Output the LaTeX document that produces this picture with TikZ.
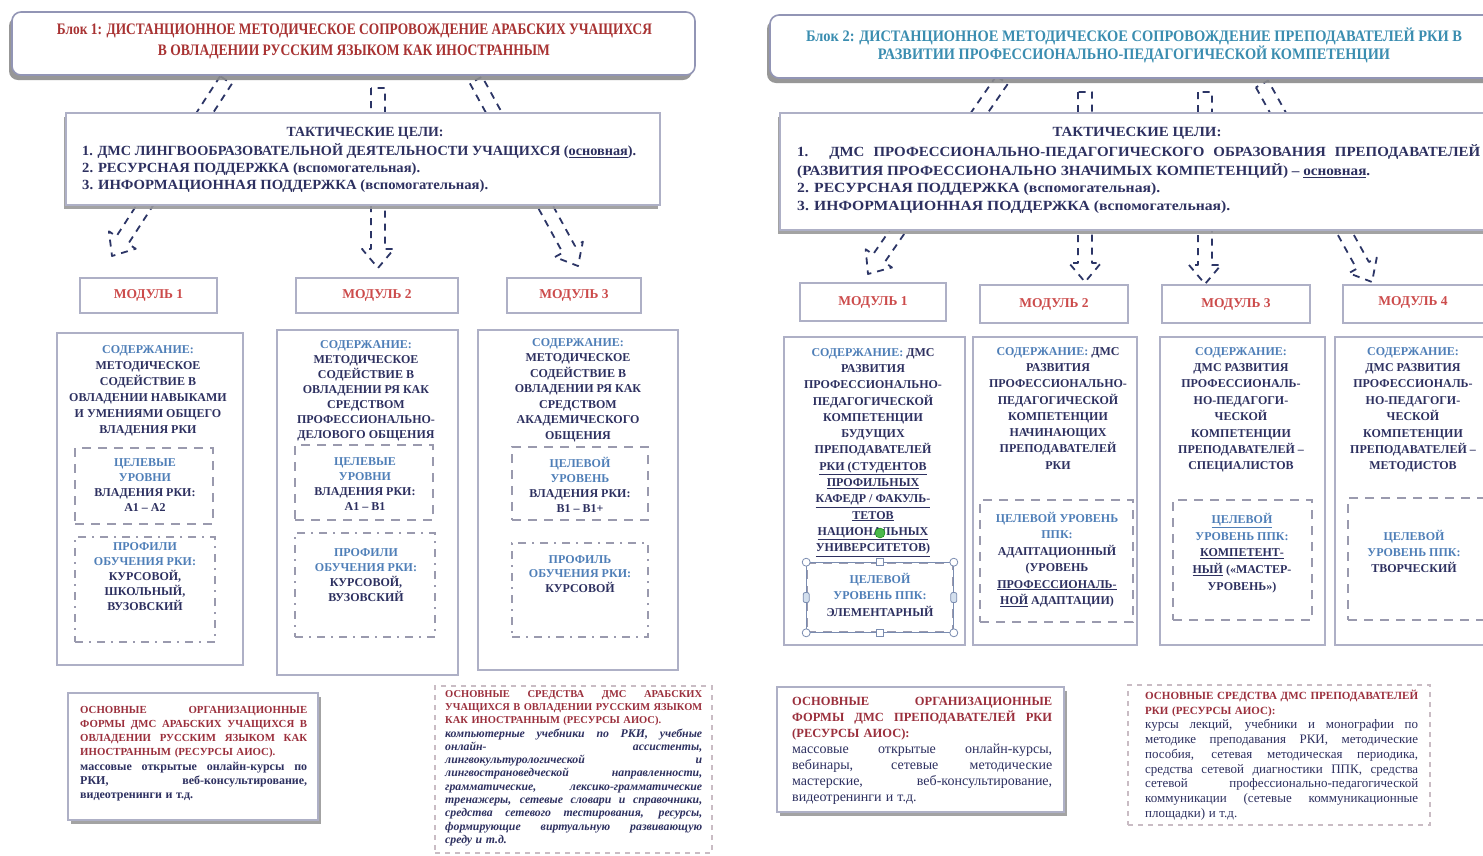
\documentclass[tikz,border=0pt]{standalone}
\usepackage{fontspec}
\setmainfont{Liberation Serif}
\usepackage{graphicx}
\usetikzlibrary{shadows,calc,fit}
\definecolor{navy}{HTML}{2D3060}
\definecolor{blu}{HTML}{4F7FB8}
\definecolor{maroon}{HTML}{9B2F3C}
\definecolor{modred}{HTML}{CC4B4B}
\definecolor{tealh}{HTML}{3A8DB0}
\definecolor{hdrred}{HTML}{A83232}
\definecolor{boxgray}{HTML}{AEB0C6}
\definecolor{hdrline}{HTML}{9295B5}
\definecolor{dashgray}{HTML}{9A9AAE}
\definecolor{arrowc}{HTML}{2C3566}
\definecolor{resline}{HTML}{C9BCC4}
\definecolor{selc}{HTML}{7A8CB0}

\newcommand\FitW[2]{\resizebox{#1}{\height}{#2}}
\newcommand\JustL[1]{\makebox[\linewidth][s]{\spaceskip=0.3em plus 1fil\xspaceskip=0.35em plus 1fil\relax #1}}
\newcommand\ResL[1]{\resizebox{\linewidth}{\height}{#1}}
\newcommand\MarT[1]{\textcolor{maroon}{\bfseries #1}}
\newcommand\NavT[1]{\textcolor{navy}{#1}}
\newcommand\BluT[1]{\textcolor{blu}{#1}}
\newcommand\BArrow[2]{%
  \path let \p1=(#1), \p2=(#2) in \pgfextra{%
    \pgfmathsetmacro\bangtmp{atan2(\y2-\y1,\x2-\x1)}%
    \pgfmathsetmacro\blentmp{veclen(\x2-\x1,\y2-\y1)}%
    \pgfmathsetmacro\bnecktmp{\blentmp-19}%
    \xdef\bang{\bangtmp}\xdef\blen{\blentmp}\xdef\bneck{\bnecktmp}};
  \draw[barrowst, shift={(#1)}, rotate=\bang]
    (0pt,-7pt) -- (\bneck pt,-7pt) -- (\bneck pt,-16pt) -- (\blen pt,0pt)
    -- (\bneck pt,16pt) -- (\bneck pt,7pt) -- (0pt,7pt) -- cycle;}

\begin{document}
\begin{tikzpicture}[x=1pt,y=-1pt,
  hdrbox/.style={draw=hdrline, line width=1.6pt, rounded corners=9pt, fill=white, inner sep=0pt,
     drop shadow={shadow xshift=-3pt, shadow yshift=-5pt, fill=black!45, opacity=0.9}},
  tacbox/.style={draw=boxgray, line width=1.5pt, fill=white, inner sep=0pt,
     drop shadow={shadow xshift=-2pt, shadow yshift=-4pt, fill=black!40, opacity=0.9}},
  modbox/.style={draw=boxgray, line width=2pt, fill=white, inner sep=0pt},
  contbox/.style={draw=boxgray, line width=2.5pt, fill=white, inner sep=0pt},
  goalbox/.style={draw=dashgray, line width=1.6pt, dash pattern=on 9pt off 7pt, inner sep=0pt},
  profbox/.style={draw=dashgray, line width=1.6pt, dash pattern=on 8pt off 6pt on 2pt off 6pt, inner sep=0pt},
  barrowst/.style={draw=arrowc, line width=1.8pt, dash pattern=on 7pt off 6pt, line join=round},
  orgbox/.style={draw=boxgray, line width=1.2pt, fill=white, inner sep=0pt,
     drop shadow={shadow xshift=3pt, shadow yshift=-4pt, fill=black!40, opacity=0.9}},
  resbox/.style={draw=resline, line width=2pt, dash pattern=on 5pt off 5pt, inner sep=0pt},
  hdrtxt/.style={font=\fontsize{16}{18}\selectfont\bfseries, inner sep=0pt},
  tactxt/.style={font=\fontsize{14}{16}\selectfont\bfseries, text=navy, inner sep=0pt},
  modtxt/.style={font=\fontsize{13.5}{16}\selectfont\bfseries, text=modred, inner sep=0pt},
  ctext/.style={font=\fontsize{12}{#1}\selectfont\bfseries, text=navy, align=center, anchor=north, inner sep=0pt},
  para/.style={anchor=north west, inner sep=0pt, align=left, text width=#1},
  handle/.style={circle, draw=selc, fill=white, line width=0.8pt, minimum size=8pt, inner sep=0pt},
  shandle/.style={rectangle, draw=selc, fill=white, line width=0.8pt, minimum size=7pt, inner sep=0pt},
]
\useasboundingbox (0,0) rectangle (1483,855);
\clip (0,0) rectangle (1483,855);
\fill[white] (0,0) rectangle (1483,855);

% ---------- block arrows (behind boxes) ----------
\coordinate (a1s) at (226,80);  \coordinate (a1e) at (112,256);
\coordinate (a2s) at (378,88);  \coordinate (a2e) at (378,268);
\coordinate (a3s) at (476,80);  \coordinate (a3e) at (578,266);
\coordinate (b1s) at (1002,80); \coordinate (b1e) at (868,274);
\coordinate (b2s) at (1085,92); \coordinate (b2e) at (1085,282);
\coordinate (b3s) at (1205,92); \coordinate (b3e) at (1205,284);
\coordinate (b4s) at (1262,84); \coordinate (b4e) at (1372,282);
\BArrow{a1s}{a1e}
\BArrow{a2s}{a2e}
\BArrow{a3s}{a3e}
\BArrow{b1s}{b1e}
\BArrow{b2s}{b2e}
\BArrow{b3s}{b3e}
\BArrow{b4s}{b4e}

% ---------- headers ----------
\node[hdrbox, fit={(12,12)(695,75)}] (hdr1) {};
\node[hdrtxt, text=hdrred] (hdr1a) at (354.5,31) {\FitW{595pt}{Блок 1: ДИСТАНЦИОННОЕ МЕТОДИЧЕСКОЕ СОПРОВОЖДЕНИЕ АРАБСКИХ УЧАЩИХСЯ}};
\node[hdrtxt, text=hdrred] (hdr1b) at (354,52) {\FitW{392pt}{В ОВЛАДЕНИИ РУССКИМ ЯЗЫКОМ КАК ИНОСТРАННЫМ}};

\node[hdrbox, fit={(770,15)(1510,78)}] (hdr2) {};
\node[hdrtxt, text=tealh] (hdr2a) at (1134,36) {\FitW{656pt}{Блок 2: ДИСТАНЦИОННОЕ МЕТОДИЧЕСКОЕ СОПРОВОЖДЕНИЕ ПРЕПОДАВАТЕЛЕЙ РКИ В}};
\node[hdrtxt, text=tealh] (hdr2b) at (1134,54) {\FitW{512pt}{РАЗВИТИИ ПРОФЕССИОНАЛЬНО-ПЕДАГОГИЧЕСКОЙ КОМПЕТЕНЦИИ}};

% ---------- tactical goals ----------
\node[tacbox, fit={(66,113)(660,205)}] (tac1) {};
\node[tactxt] (tac1t) at (365,133) {\FitW{157pt}{ТАКТИЧЕСКИЕ ЦЕЛИ:}};
\node[tactxt, anchor=west] (tac1a) at (82,151) {\FitW{554pt}{1. ДМС ЛИНГВООБРАЗОВАТЕЛЬНОЙ ДЕЯТЕЛЬНОСТИ УЧАЩИХСЯ (\underline{основная}).}};
\node[tactxt, anchor=west] (tac1b) at (82,169) {\FitW{338pt}{2. РЕСУРСНАЯ ПОДДЕРЖКА (вспомогательная).}};
\node[tactxt, anchor=west] (tac1c) at (82,186) {\FitW{406pt}{3. ИНФОРМАЦИОННАЯ ПОДДЕРЖКА (вспомогательная).}};

\node[tacbox, fit={(780,113)(1510,230)}] (tac2) {};
\node[tactxt] (tac2t) at (1137,133) {\FitW{169pt}{ТАКТИЧЕСКИЕ ЦЕЛИ:}};
\node[tactxt, anchor=west] (tac2a) at (797,152) {\FitW{683pt}{\makebox[640pt][s]{1. ДМС ПРОФЕССИОНАЛЬНО-ПЕДАГОГИЧЕСКОГО ОБРАЗОВАНИЯ ПРЕПОДАВАТЕЛЕЙ}}};
\node[tactxt, anchor=west] (tac2b) at (797,171) {\FitW{573pt}{(РАЗВИТИЯ ПРОФЕССИОНАЛЬНО ЗНАЧИМЫХ КОМПЕТЕНЦИЙ) – \underline{основная}.}};
\node[tactxt, anchor=west] (tac2c) at (797,189) {\FitW{363pt}{2. РЕСУРСНАЯ ПОДДЕРЖКА (вспомогательная).}};
\node[tactxt, anchor=west] (tac2d) at (797,207) {\FitW{433pt}{3. ИНФОРМАЦИОННАЯ ПОДДЕРЖКА (вспомогательная).}};

% ---------- module labels ----------
\node[modbox, fit={(80,278)(217,313)}] (lm1) {};
\node[modtxt] at (lm1.center) {МОДУЛЬ 1};
\node[modbox, fit={(296,278)(458,313)}] (lm2) {};
\node[modtxt] at (lm2.center) {МОДУЛЬ 2};
\node[modbox, fit={(507,278)(641,313)}] (lm3) {};
\node[modtxt] at (lm3.center) {МОДУЛЬ 3};

\node[modbox, fit={(800,283)(946,321)}] (rm1) {};
\node[modtxt] at (rm1.center) {МОДУЛЬ 1};
\node[modbox, fit={(980,285)(1128,323)}] (rm2) {};
\node[modtxt] at (rm2.center) {МОДУЛЬ 2};
\node[modbox, fit={(1162,285)(1310,323)}] (rm3) {};
\node[modtxt] at (rm3.center) {МОДУЛЬ 3};
\node[modbox, fit={(1343,285)(1500,323)}] (rm4) {};
\node[modtxt] at (1413,302) {МОДУЛЬ 4};

% ---------- left content boxes ----------
\node[contbox, fit={(57,333)(243,665)}] (lc1) {};
\node[goalbox, fit={(75,448)(213,524)}] (lg1) {};
\node[profbox, fit={(75,537)(215,642)}] (lp1) {};
\node[ctext=16] (lc1t) at (148,345) {\BluT{СОДЕРЖАНИЕ:}\\МЕТОДИЧЕСКОЕ\\СОДЕЙСТВИЕ В\\ОВЛАДЕНИИ НАВЫКАМИ\\И УМЕНИЯМИ ОБЩЕГО\\ВЛАДЕНИЯ РКИ};
\node[ctext=15] (lg1t) at (145,458) {\BluT{ЦЕЛЕВЫЕ}\\\BluT{УРОВНИ}\\ВЛАДЕНИЯ РКИ:\\А1 – А2};
\node[ctext=15.2] (lp1t) at (145,542) {\BluT{ПРОФИЛИ}\\\BluT{ОБУЧЕНИЯ РКИ:}\\КУРСОВОЙ,\\ШКОЛЬНЫЙ,\\ВУЗОВСКИЙ};

\node[contbox, fit={(277,330)(458,675)}] (lc2) {};
\node[goalbox, fit={(295,445)(433,520)}] (lg2) {};
\node[profbox, fit={(295,533)(435,637)}] (lp2) {};
\node[ctext=15] (lc2t) at (366,340) {\BluT{СОДЕРЖАНИЕ:}\\МЕТОДИЧЕСКОЕ\\СОДЕЙСТВИЕ В\\ОВЛАДЕНИИ РЯ КАК\\СРЕДСТВОМ\\ПРОФЕССИОНАЛЬНО-\\ДЕЛОВОГО ОБЩЕНИЯ};
\node[ctext=15] (lg2t) at (365,457) {\BluT{ЦЕЛЕВЫЕ}\\\BluT{УРОВНИ}\\ВЛАДЕНИЯ РКИ:\\А1 – В1};
\node[ctext=15] (lp2t) at (366,548) {\BluT{ПРОФИЛИ}\\\BluT{ОБУЧЕНИЯ РКИ:}\\КУРСОВОЙ,\\ВУЗОВСКИЙ};

\node[contbox, fit={(478,330)(678,670)}] (lc3) {};
\node[goalbox, fit={(512,447)(648,520)}] (lg3) {};
\node[profbox, fit={(512,543)(648,637)}] (lp3) {};
\node[ctext=15.5] (lc3t) at (578,338) {\BluT{СОДЕРЖАНИЕ:}\\МЕТОДИЧЕСКОЕ\\СОДЕЙСТВИЕ В\\ОВЛАДЕНИИ РЯ КАК\\СРЕДСТВОМ\\АКАДЕМИЧЕСКОГО\\ОБЩЕНИЯ};
\node[ctext=15] (lg3t) at (580,457) {\BluT{ЦЕЛЕВОЙ}\\\BluT{УРОВЕНЬ}\\ВЛАДЕНИЯ РКИ:\\В1 – В1+};
\node[ctext=14.5] (lp3t) at (580,555) {\BluT{ПРОФИЛЬ}\\\BluT{ОБУЧЕНИЯ РКИ:}\\КУРСОВОЙ};

% ---------- right content boxes ----------
\node[contbox, fit={(784,337)(965,645)}] (rc1) {};
\node[goalbox, fit={(807,563)(953,632)}] (rg1) {};
\node[ctext=16.3] (rc1t) at (873,348) {\BluT{СОДЕРЖАНИЕ:} ДМС\\РАЗВИТИЯ\\ПРОФЕССИОНАЛЬНО-\\ПЕДАГОГИЧЕСКОЙ\\КОМПЕТЕНЦИИ\\БУДУЩИХ\\ПРЕПОДАВАТЕЛЕЙ\\\underline{РКИ (СТУДЕНТОВ}\\\underline{ПРОФИЛЬНЫХ}\\\underline{КАФЕДР / ФАКУЛЬ-}\\\underline{ТЕТОВ}\\\underline{НАЦИОНАЛЬНЫХ}\\\underline{УНИВЕРСИТЕТОВ)}};
\node[ctext=16.5] (rg1t) at (880,573) {\BluT{ЦЕЛЕВОЙ}\\\BluT{УРОВЕНЬ ППК:}\\ЭЛЕМЕНТАРНЫЙ};

\node[contbox, fit={(973,337)(1137,645)}] (rc2) {};
\node[goalbox, fit={(980,500)(1133,622)}] (rg2) {};
\node[ctext=16.3] (rc2t) at (1058,347) {\BluT{СОДЕРЖАНИЕ:} ДМС\\РАЗВИТИЯ\\ПРОФЕССИОНАЛЬНО-\\ПЕДАГОГИЧЕСКОЙ\\КОМПЕТЕНЦИИ\\НАЧИНАЮЩИХ\\ПРЕПОДАВАТЕЛЕЙ\\РКИ};
\node[ctext=16.4] (rg2t) at (1057,512) {\BluT{ЦЕЛЕВОЙ УРОВЕНЬ}\\\BluT{ППК:}\\АДАПТАЦИОННЫЙ\\(УРОВЕНЬ\\\underline{ПРОФЕССИОНАЛЬ-}\\\underline{НОЙ} АДАПТАЦИИ)};

\node[contbox, fit={(1160,337)(1325,645)}] (rc3) {};
\node[goalbox, fit={(1173,500)(1312,620)}] (rg3) {};
\node[ctext=16.4] (rc3t) at (1241,347) {\BluT{СОДЕРЖАНИЕ:}\\ДМС РАЗВИТИЯ\\ПРОФЕССИОНАЛЬ-\\НО-ПЕДАГОГИ-\\ЧЕСКОЙ\\КОМПЕТЕНЦИИ\\ПРЕПОДАВАТЕЛЕЙ –\\СПЕЦИАЛИСТОВ};
\node[ctext=16.7] (rg3t) at (1242,513) {\BluT{\underline{ЦЕЛЕВОЙ}}\\\BluT{УРОВЕНЬ ППК:}\\\underline{КОМПЕТЕНТ-}\\\underline{НЫЙ} («МАСТЕР-\\УРОВЕНЬ»)};

\node[contbox, fit={(1335,337)(1510,645)}] (rc4) {};
\node[goalbox, fit={(1348,498)(1500,620)}] (rg4) {};
\node[ctext=16.4] (rc4t) at (1413,347) {\BluT{СОДЕРЖАНИЕ:}\\ДМС РАЗВИТИЯ\\ПРОФЕССИОНАЛЬ-\\НО-ПЕДАГОГИ-\\ЧЕСКОЙ\\КОМПЕТЕНЦИИ\\ПРЕПОДАВАТЕЛЕЙ –\\МЕТОДИСТОВ};
\node[ctext=16] (rg4t) at (1414,530) {\BluT{ЦЕЛЕВОЙ}\\\BluT{УРОВЕНЬ ППК:}\\ТВОРЧЕСКИЙ};

% ---------- editor selection marks (as printed) ----------
\draw[selc, line width=0.9pt] (rg1.north west) rectangle (rg1.south east);
\node[handle] (s1) at (rg1.north west) {};
\node[handle] (s2) at (rg1.north east) {};
\node[handle] (s3) at (rg1.south west) {};
\node[handle] (s4) at (rg1.south east) {};
\node[shandle] (s5) at (rg1.north) {};
\node[shandle] (s6) at (rg1.south) {};
\node[shandle, fill=blu!25, rounded corners=2pt, minimum width=6pt, minimum height=10pt] (s7) at (rg1.west) {};
\node[shandle, fill=blu!25, rounded corners=2pt, minimum width=6pt, minimum height=10pt] (s8) at (rg1.east) {};
\node[circle, draw=green!50!black, fill=green!60!black!70, minimum size=10pt, inner sep=0pt] (rot) at (880,533) {};

% ---------- bottom boxes ----------
\node[orgbox, fit={(68,693)(318,820)}] (lo) {};
\node[para=227pt, font=\fontsize{10.8}{14.2}\selectfont] (lot) at (80,706) {%
\MarT{\JustL{ОСНОВНЫЕ ОРГАНИЗАЦИОННЫЕ}}\\
\MarT{\JustL{ФОРМЫ ДМС АРАБСКИХ УЧАЩИХСЯ В}}\\
\MarT{\JustL{ОВЛАДЕНИИ РУССКИМ ЯЗЫКОМ КАК}}\\
\MarT{ИНОСТРАННЫМ (РЕСУРСЫ АИОС).}\\
\NavT{\fontsize{12}{14.2}\selectfont\bfseries\JustL{массовые открытые онлайн-курсы по}}\\
\NavT{\fontsize{12}{14.2}\selectfont\bfseries\JustL{РКИ, веб-консультирование,}}\\
\NavT{\fontsize{12}{14.2}\selectfont\bfseries видеотренинги и т.д.}};

\node[resbox, fit={(435,686)(712,853)}] (lr) {};
\node[para=257pt, font=\fontsize{10.5}{13.3}\selectfont] (lrt) at (445,690) {%
\MarT{\JustL{ОСНОВНЫЕ СРЕДСТВА ДМС АРАБСКИХ}}\\
\MarT{\ResL{УЧАЩИХСЯ В ОВЛАДЕНИИ РУССКИМ ЯЗЫКОМ}}\\
\MarT{КАК ИНОСТРАННЫМ (РЕСУРСЫ АИОС).}\\
\NavT{\fontsize{11.8}{13.3}\selectfont\bfseries\itshape\JustL{компьютерные учебники по РКИ, учебные}}\\
\NavT{\fontsize{11.8}{13.3}\selectfont\bfseries\itshape\JustL{онлайн- ассистенты,}}\\
\NavT{\fontsize{11.8}{13.3}\selectfont\bfseries\itshape\JustL{лингвокультурологической и}}\\
\NavT{\fontsize{11.8}{13.3}\selectfont\bfseries\itshape\JustL{лингвострановедческой направленности,}}\\
\NavT{\fontsize{11.8}{13.3}\selectfont\bfseries\itshape\JustL{грамматические, лексико-грамматические}}\\
\NavT{\fontsize{11.8}{13.3}\selectfont\bfseries\itshape\JustL{тренажеры, сетевые словари и справочники,}}\\
\NavT{\fontsize{11.8}{13.3}\selectfont\bfseries\itshape\JustL{средства сетевого тестирования, ресурсы,}}\\
\NavT{\fontsize{11.8}{13.3}\selectfont\bfseries\itshape\JustL{формирующие виртуальную развивающую}}\\
\NavT{\fontsize{11.8}{13.3}\selectfont\bfseries\itshape среду и т.д.}};

\node[orgbox, fit={(777,687)(1064,812)}] (ro) {};
\node[para=260pt, font=\fontsize{12.5}{16}\selectfont] (rot2) at (792,697) {%
\MarT{\JustL{ОСНОВНЫЕ ОРГАНИЗАЦИОННЫЕ}}\\
\MarT{\JustL{ФОРМЫ ДМС ПРЕПОДАВАТЕЛЕЙ РКИ}}\\
\MarT{(РЕСУРСЫ АИОС):}\\
\NavT{\fontsize{14}{16}\selectfont\JustL{массовые открытые онлайн-курсы,}}\\
\NavT{\fontsize{14}{16}\selectfont\JustL{вебинары, сетевые методические}}\\
\NavT{\fontsize{14}{16}\selectfont\JustL{мастерские, веб-консультирование,}}\\
\NavT{\fontsize{14}{16}\selectfont видеотренинги и т.д.}};

\node[resbox, fit={(1128,685)(1430,825)}] (rr) {};
\node[para=273pt, font=\fontsize{11}{14.7}\selectfont] (rrt) at (1145,690) {%
\MarT{\ResL{ОСНОВНЫЕ СРЕДСТВА ДМС ПРЕПОДАВАТЕЛЕЙ}}\\
\MarT{РКИ (РЕСУРСЫ АИОС):}\\
\NavT{\fontsize{13}{14.7}\selectfont\JustL{курсы лекций, учебники и монографии по}}\\
\NavT{\fontsize{13}{14.7}\selectfont\JustL{методике преподавания РКИ, методические}}\\
\NavT{\fontsize{13}{14.7}\selectfont\JustL{пособия, сетевая методическая периодика,}}\\
\NavT{\fontsize{13}{14.7}\selectfont\JustL{средства сетевой диагностики ППК, средства}}\\
\NavT{\fontsize{13}{14.7}\selectfont\JustL{сетевой профессионально-педагогической}}\\
\NavT{\fontsize{13}{14.7}\selectfont\JustL{коммуникации (сетевые коммуникационные}}\\
\NavT{\fontsize{13}{14.7}\selectfont площадки) и т.д.}};

\end{tikzpicture}
\end{document}
